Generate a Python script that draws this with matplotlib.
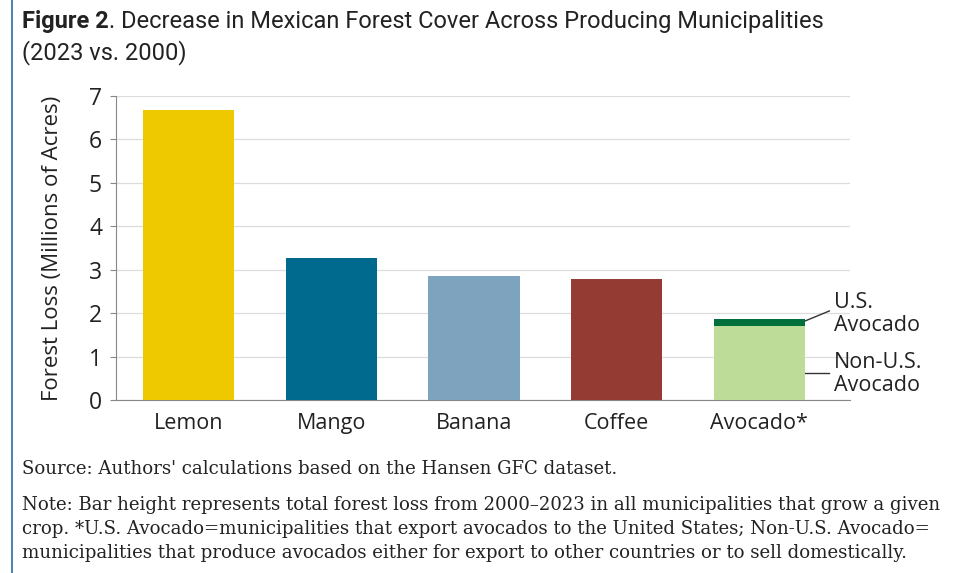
import matplotlib.pyplot as plt
from matplotlib.lines import Line2D

# data
crops = ['Lemon', 'Mango', 'Banana', 'Coffee', 'Avocado*']
loss = [6.67, 3.27, 2.86, 2.79, 1.70]
colors = ['#eec900', '#006a8e', '#7ea3bf', '#943c33', '#bddc98']
us_avocado = 0.17
yticks = [0, 1, 2, 3, 4, 5, 6, 7]

sans = ['Open Sans', 'DejaVu Sans']
serif = ['DejaVu Serif']
cond = ['Liberation Sans Narrow', 'Roboto', 'DejaVu Sans']
ink = '#222222'

fig = plt.figure(figsize=(9.54, 5.73), dpi=100)
ax = fig.add_axes([0.1216, 0.3019, 0.7694, 0.5306])

x = list(range(len(crops)))
ax.bar(x, loss, width=0.64, color=colors, zorder=3)
ax.bar([4], [us_avocado], bottom=[loss[4]], width=0.64, color='#00703c', zorder=3)

ax.set_xlim(-0.51, 4.635)
ax.set_ylim(0, 7)
ax.set_yticks(yticks)
ax.set_xticks(x)
ax.set_xticklabels(crops, fontfamily=sans, fontsize=15.5, color=ink)
ax.set_yticklabels([str(v) for v in yticks], fontfamily=sans, fontsize=16.5, color=ink)
ax.tick_params(axis='x', length=0, pad=9)
ax.tick_params(axis='y', length=4, width=0.8, color='#888888', pad=6)
ax.grid(axis='y', color='#dddddd', linewidth=0.9, zorder=0)
for s in ['top', 'right']:
    ax.spines[s].set_visible(False)
ax.spines['left'].set_color('#888888')
ax.spines['bottom'].set_color('#888888')
ax.set_ylabel('Forest Loss (Millions of Acres)', fontfamily=sans, fontsize=16, color=ink, labelpad=19)

# leader lines and labels for the avocado split
edge = 4 + 0.32
top = loss[4] + us_avocado
ax.plot([edge, 4.49], [top - 0.05, 2.05], color='#333333', lw=1, clip_on=False)
ax.plot([edge, 4.49], [0.62, 0.62], color='#333333', lw=1, clip_on=False)
ax.text(4.52, 1.98, 'U.S.\nAvocado', fontfamily=sans, fontsize=15.5, color=ink,
        va='center', ha='left', linespacing=1.1)
ax.text(4.52, 0.6, 'Non-U.S.\nAvocado', fontfamily=sans, fontsize=15.5, color=ink,
        va='center', ha='left', linespacing=1.1)

fig.canvas.draw()
r = fig.canvas.get_renderer()
W = fig.bbox.width

# title, sized so the first line runs to about x=826 px
t1 = fig.text(0.023, 0.962, 'Figure 2', fontfamily=cond, fontsize=17, fontweight='bold',
              color=ink, va='center')
bb = t1.get_window_extent(r)
t2 = fig.text(bb.x1 / W, 0.962, '. Decrease in Mexican Forest Cover Across Producing Municipalities',
              fontfamily=cond, fontsize=17, color=ink, va='center')
span = t2.get_window_extent(r).x1 - bb.x0
fs = 17 * (826 - 22) / span
t1.set_fontsize(fs)
bb = t1.get_window_extent(r)
t2.set_fontsize(fs)
t2.set_x(bb.x1 / W)
fig.text(0.023, 0.909, '(2023 vs. 2000)', fontfamily=cond, fontsize=fs, color=ink, va='center')

# source and note, sized so the first note line runs to about x=942 px
source = "Source: Authors' calculations based on the Hansen GFC dataset."
note = ['Note: Bar height represents total forest loss from 2000\u20132023 in all municipalities that grow a given',
        'crop. *U.S. Avocado=municipalities that export avocados to the United States; Non-U.S. Avocado=',
        'municipalities that produce avocados either for export to other countries or to sell domestically.']
probe = fig.text(0, 0, note[0], fontfamily=serif, fontsize=13)
nfs = 13 * (942 - 22) / probe.get_window_extent(r).width
probe.remove()
fig.text(0.023, 0.1815, source, fontfamily=serif, fontsize=nfs, color=ink, va='center')
for i, line in enumerate(note):
    fig.text(0.023, 0.1185 - i * 0.042, line, fontfamily=serif, fontsize=nfs, color=ink, va='center')

# blue rule on the left edge
fig.add_artist(Line2D([0.0126, 0.0126], [0, 1], transform=fig.transFigure, color='#2a6ea6', lw=1.2))

fig.savefig('out.png', dpi=100)
